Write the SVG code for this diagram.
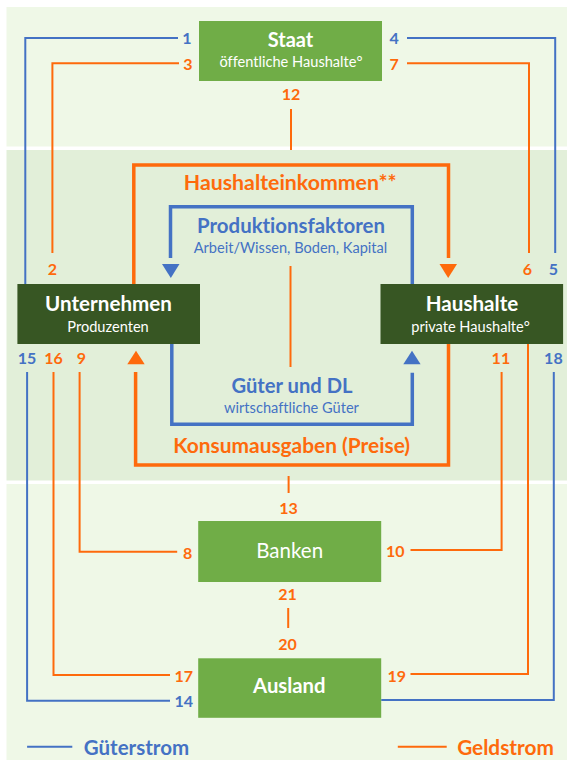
<svg xmlns="http://www.w3.org/2000/svg" width="567" height="760" viewBox="0 0 567 760">
<defs>
<style>
text{font-family:Lato,"Open Sans","Liberation Sans",sans-serif;text-anchor:middle;font-variant-ligatures:none;font-feature-settings:"liga" 0}
.b{font-weight:bold}
.w{fill:#ffffff}
.o{fill:#fe6a0c}
.bl{fill:#4472c4}
.s{font-size:14.6px}
.num{font-size:16px;font-weight:bold}
.lo{stroke:#fe6a0c;stroke-width:2;fill:none}
.lb{stroke:#4472c4;stroke-width:2;fill:none}
.to{stroke:#fe6a0c;stroke-width:3.5;fill:none}
.tb{stroke:#4472c4;stroke-width:3.5;fill:none}
.g{fill:#70ad47}
.dg{fill:#375623}
</style>
</defs>
<rect x="0" y="0" width="567" height="760" fill="#ffffff"/>
<rect x="6.5" y="7" width="560.5" height="139.5" fill="#eff8e7"/>
<rect x="6.5" y="150" width="560.5" height="330.5" fill="#e2efd9"/>
<rect x="6.5" y="484" width="560.5" height="276" fill="#eff8e7"/>

<g id="connectors">
<polyline class="lb" points="178,38 25.3,38 25.3,284"/>
<polyline class="lo" points="179,63.3 52.4,63.3 52.4,253"/>
<polyline class="lb" points="407,38 555.2,38 555.2,253"/>
<polyline class="lo" points="407,63.3 529,63.3 529,253"/>
<line class="lo" x1="291" y1="109" x2="291" y2="150"/>
<line class="lo" x1="290.5" y1="266" x2="290.5" y2="367"/>
<line class="lo" x1="288.6" y1="476" x2="288.6" y2="493"/>
<line class="lo" x1="288.2" y1="608" x2="288.2" y2="628"/>
<polyline class="to" points="133.8,284 133.8,165 448.5,165 448.5,258"/>
<polygon points="439.5,264 457,264 448.2,278" fill="#fe6a0c"/>
<polyline class="tb" points="170.5,258 170.5,206.7 412.3,206.7 412.3,284"/>
<polygon points="162,264 179.5,264 170.8,278" fill="#4472c4"/>
<polyline class="to" points="135.6,372 135.6,465 448.5,465 448.5,344"/>
<polygon points="127.3,364.3 144.7,364.3 136,350.7" fill="#fe6a0c"/>
<polyline class="tb" points="171.8,344 171.8,424.3 412.3,424.3 412.3,372.7"/>
<polygon points="403.3,364.3 420.6,364.3 412,350.7" fill="#4472c4"/>
<polyline class="lb" points="27.1,372 27.1,700.7 170,700.7"/>
<polyline class="lo" points="53.5,372 53.5,675 170,675"/>
<polyline class="lo" points="79.6,372 79.6,551.7 177.2,551.7"/>
<polyline class="lo" points="501.6,372 501.6,550 410.5,550"/>
<polyline class="lo" points="528,344 528,674 410.5,674"/>
<polyline class="lb" points="553.8,372 553.8,700 381.2,700"/>
</g>

<g id="staat">
<rect class="g" x="199" y="21" width="183" height="60"/>
<text class="w b" x="290.5" y="47" font-size="20">Staat</text>
<text class="w s" x="291" y="67">öffentliche Haushalte°</text>
</g>
<g id="unternehmen">
<rect class="dg" x="17.4" y="284" width="182.6" height="60"/>
<text class="w b" x="108.5" y="311" font-size="20.6">Unternehmen</text>
<text class="w s" x="108" y="332">Produzenten</text>
</g>
<g id="haushalte">
<rect class="dg" x="380.5" y="284" width="182.6" height="60"/>
<text class="w b" x="472" y="311" font-size="20.6">Haushalte</text>
<text class="w s" x="470.5" y="332">private Haushalte°</text>
</g>
<g id="banken">
<rect class="g" x="198.2" y="521" width="183" height="61"/>
<text class="w" x="289.7" y="557.7" font-size="20.5">Banken</text>
</g>
<g id="ausland">
<rect class="g" x="198.2" y="658.3" width="183" height="59.5"/>
<text class="w b" x="289.3" y="693" font-size="20.3">Ausland</text>
</g>

<g id="flow-labels">
<text class="o b" x="290.2" y="190" font-size="21.3">Haushalteinkommen**</text>
<text class="bl b" x="291" y="232.7" font-size="20.4">Produktionsfaktoren</text>
<text class="bl s" x="290.5" y="253">Arbeit/Wissen, Boden, Kapital</text>
<text class="bl b" x="292" y="393.3" font-size="20.2">Güter und DL</text>
<text class="bl s" x="291.5" y="413.3">wirtschaftliche Güter</text>
<text class="o b" x="291.7" y="453.3" font-size="20.9">Konsumausgaben (Preise)</text>
</g>

<g id="numbers">
<text class="bl num" x="187" y="44.3">1</text>
<text class="o num" x="188" y="70">3</text>
<text class="bl num" x="394.2" y="44.3">4</text>
<text class="o num" x="394.2" y="70">7</text>
<text class="o num" x="291.1" y="100">12</text>
<text class="o num" x="52.4" y="275">2</text>
<text class="o num" x="527.3" y="275">6</text>
<text class="bl num" x="553.4" y="275">5</text>
<text class="bl num" x="27.1" y="364">15</text>
<text class="o num" x="53.5" y="364">16</text>
<text class="o num" x="81.4" y="364">9</text>
<text class="o num" x="500.9" y="364">11</text>
<text class="bl num" x="553.4" y="364">18</text>
<text class="o num" x="288.6" y="514">13</text>
<text class="o num" x="187.7" y="558.5">8</text>
<text class="o num" x="395.3" y="557">10</text>
<text class="o num" x="287.5" y="600">21</text>
<text class="o num" x="287.5" y="650">20</text>
<text class="o num" x="183.7" y="682">17</text>
<text class="bl num" x="183.7" y="707">14</text>
<text class="o num" x="396.7" y="682">19</text>
</g>

<g id="legend">
<line class="lb" x1="27.1" y1="746.7" x2="72.3" y2="746.7"/>
<text class="bl b" x="136.5" y="755" font-size="20.5">Güterstrom</text>
<line class="lo" x1="397.8" y1="746.7" x2="446.7" y2="746.7"/>
<text class="o b" x="505.5" y="755" font-size="20.8">Geldstrom</text>
</g>
</svg>
